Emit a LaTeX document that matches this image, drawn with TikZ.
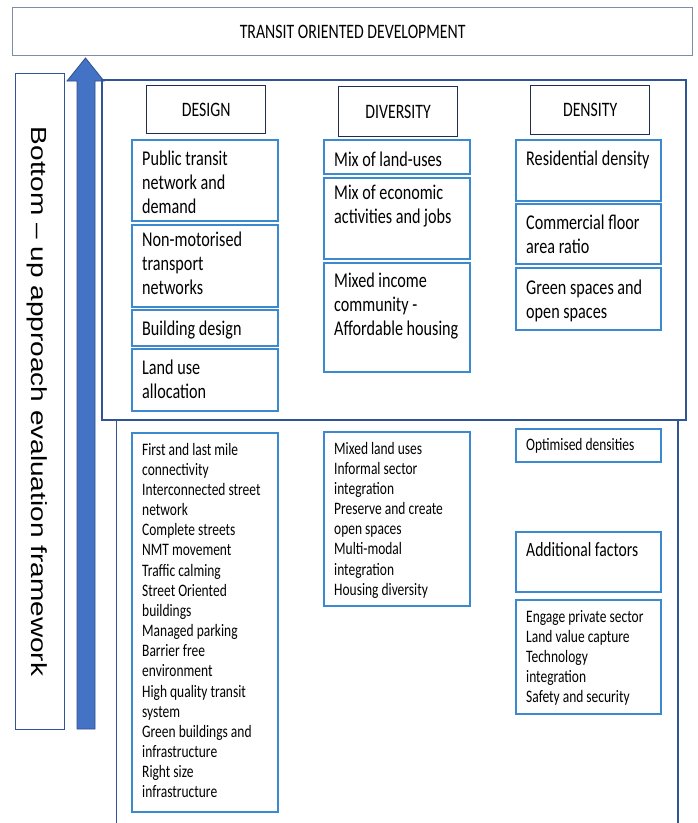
\documentclass[tikz,border=0pt]{standalone}
\usepackage{fontspec}
\setmainfont{Carlito}[FakeStretch=0.77]
\newfontfamily\sidefont{Liberation Sans}
\definecolor{cellblue}{HTML}{3B8AD0}
\definecolor{headnavy}{HTML}{1F2D4E}
\definecolor{frameblue}{HTML}{2F5597}
\definecolor{titleline}{HTML}{7D8CAA}
\definecolor{arrowfill}{HTML}{4472C4}
\definecolor{arrowline}{HTML}{2F528F}
\newcommand\boxfont{\fontsize{21}{24}\selectfont}
\newcommand\headfont{\fontsize{20.5}{24}\selectfont}
\newcommand\listfont{\fontsize{17.5}{20.15}\selectfont}
\newcommand\addfont{\fontsize{20.3}{24}\selectfont}
\begin{document}
\begin{tikzpicture}[x=1pt,y=-1pt,
  cell/.style={draw=cellblue,line width=1.1pt,anchor=north west,inner sep=0pt,outer sep=0pt},
  headbox/.style={draw=headnavy,line width=1.3pt,anchor=north west,inner sep=0pt,font=\headfont},
  txt/.style={anchor=north west,inner sep=0pt,align=left,font=\boxfont},
  lst/.style={anchor=north west,inner sep=0pt,align=left,font=\listfont}]
\fill[white] (0,0) rectangle (698,823);
\useasboundingbox (0,0) rectangle (698,823);

% title bar
\node[draw=titleline,line width=1.3pt,anchor=north west,inner sep=0pt,
      minimum width=680pt,minimum height=48pt,font=\headfont] (title) at (12,7)
      {TRANSIT ORIENTED DEVELOPMENT};

% side label
\node[draw=frameblue,line width=1pt,anchor=north west,inner sep=0pt,
      minimum width=49pt,minimum height=656pt] (side) at (15,73) {};
\node[anchor=base,inner sep=0pt,rotate=-90,yscale=0.78,
      font=\sidefont\fontsize{28}{32}\selectfont] (sidetxt) at (31,401.5)
      {Bottom – up approach evaluation framework};

% upward arrow
\filldraw[fill=arrowfill,draw=arrowline,line width=0.8pt,line join=miter]
  (85.5,58) -- (104,81) -- (95,81) -- (95,729) -- (77,729) -- (77,81) -- (67,81) -- cycle;

% main frame and the open frame below it
\node[draw=frameblue,line width=1.5pt,anchor=north west,inner sep=0pt,
      minimum width=584pt,minimum height=340pt] (frame) at (101,79) {};
\coordinate (lowL) at (116.5,823);
\coordinate (lowR) at (678,823);
\draw[frameblue,line width=1.3pt] (frame.south west -| lowL) -- (lowL);
\draw[frameblue,line width=1.3pt] (frame.south west -| lowR) -- (lowR);

% column headers
\node[headbox,minimum width=119pt,minimum height=48pt] (design) at (146,85) {DESIGN};
\node[headbox,minimum width=119pt,minimum height=50pt] (diversity) at (338,86) {DIVERSITY};
\node[headbox,minimum width=119pt,minimum height=49pt] (density) at (530,85) {DENSITY};

% design column
\node[cell,minimum width=146pt,minimum height=81pt] (pt) at (132,140) {};
\node[txt] (ptt) at ([shift={(10,8.2)}]pt.north west) {\strut Public transit\\network and\\demand};
\node[cell,minimum width=146pt,minimum height=82pt] (nm) at (132,225) {};
\node[txt] (nmt) at ([shift={(10,4.2)}]nm.north west) {\strut Non-motorised\\transport\\networks};
\node[cell,minimum width=146pt,minimum height=36pt] (bd) at (132,310) {};
\node[txt] (bdt) at ([shift={(10,8.2)}]bd.north west) {\strut Building design};
\node[cell,minimum width=146pt,minimum height=62pt] (lu) at (132,349) {};
\node[txt] (lut) at ([shift={(10,8.2)}]lu.north west) {\strut Land use\\allocation};

% diversity column
\node[cell,minimum width=146pt,minimum height=34pt] (ml) at (324,140) {};
\node[txt] (mlt) at ([shift={(10,9.2)}]ml.north west) {\strut Mix of land-uses};
\node[cell,minimum width=146pt,minimum height=81pt] (me) at (324,178) {};
\node[txt] (met) at ([shift={(10,4.2)}]me.north west) {\strut Mix of economic\\activities and jobs};
\node[cell,minimum width=146pt,minimum height=109pt] (mi) at (324,263) {};
\node[txt] (mit) at ([shift={(10,7.2)}]mi.north west) {\strut Mixed income\\community -\\Affordable housing};

% density column
\node[cell,minimum width=145pt,minimum height=61pt] (rd) at (516,140) {};
\node[txt] (rdt) at ([shift={(10,8.2)}]rd.north west) {\strut Residential density};
\node[cell,minimum width=145pt,minimum height=60pt] (cf) at (516,204) {};
\node[txt] (cft) at ([shift={(10,8.2)}]cf.north west) {\strut Commercial floor\\area ratio};
\node[cell,minimum width=145pt,minimum height=62pt] (gs) at (516,268) {};
\node[txt] (gst) at ([shift={(10,9.2)}]gs.north west) {\strut Green spaces and\\open spaces};

% lower lists
\node[cell,minimum width=146pt,minimum height=379pt] (dl) at (132,433) {};
\node[lst] (dlt) at ([shift={(10,7.9)}]dl.north west) {\strut First and last mile\\connectivity\\Interconnected street\\network\\Complete streets\\NMT movement\\Traffic calming\\Street Oriented\\buildings\\Managed parking\\Barrier free\\environment\\High quality transit\\system\\Green buildings and\\infrastructure\\Right size\\infrastructure};

\node[cell,minimum width=146pt,minimum height=174pt] (vl) at (324,432) {};
\node[lst] (vlt) at ([shift={(10,7.9)}]vl.north west) {\strut Mixed land uses\\Informal sector\\integration\\Preserve and create\\open spaces\\Multi-modal\\integration\\Housing diversity};

\node[cell,minimum width=145pt,minimum height=33pt] (od) at (516,429) {};
\node[lst] (odt) at ([shift={(10,7.6)}]od.north west) {\strut Optimised densities};

\node[cell,minimum width=145pt,minimum height=60pt] (af) at (516,532) {};
\node[txt,font=\addfont] (aft) at ([shift={(10,7.9)}]af.north west) {\strut Additional factors};

\node[cell,minimum width=145pt,minimum height=114pt] (ep) at (516,600) {};
\node[lst] (ept) at ([shift={(10,7.9)}]ep.north west) {\strut Engage private sector\\Land value capture\\Technology\\integration\\Safety and security};
\end{tikzpicture}
\end{document}
